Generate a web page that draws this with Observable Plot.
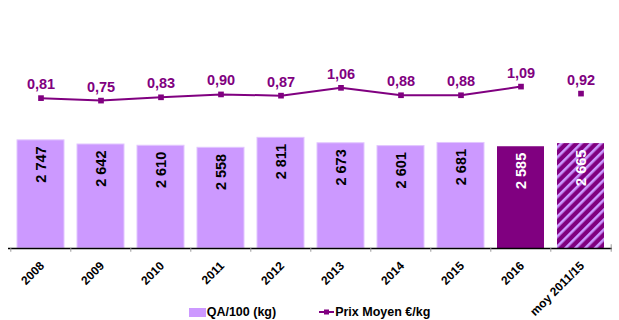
<!DOCTYPE html>
<html>
<head>
<meta charset="utf-8">
<script src="https://cdn.jsdelivr.net/npm/d3@7"></script>
<script src="https://cdn.jsdelivr.net/npm/@observablehq/plot@0.6"></script>
<style>
  html, body { margin: 0; padding: 0; background: #fff; }
  #wrap { position: relative; width: 619px; height: 320px; font-family: 'Liberation Sans', Arial, sans-serif; }
  #legend { position: absolute; left: 0; top: 305px; width: 619px; text-align: center; font-size: 12.5px; font-weight: bold; line-height: 14px; white-space: nowrap; color: #000; }
  #legend .item { display: inline-flex; align-items: center; vertical-align: top; }
  #legend .sw { display: inline-block; width: 17px; height: 9px; background: #CC99FF; margin-right: 1px; }
  #legend svg { margin-right: 1px; }
</style>
</head>
<body>
<div id="wrap">
  <div id="chart"></div>
  <div id="legend">
    <span class="item"><span class="sw"></span>QA/100 (kg)</span><span style="display:inline-block;width:43px"></span><span class="item"><svg width="15" height="10"><line x1="0" y1="5" x2="15" y2="5" stroke="#800080" stroke-width="2"/><rect x="5" y="2.5" width="5" height="5" fill="#800080"/></svg>Prix Moyen €/kg</span>
  </div>
</div>
<script>
const categories = ["2008", "2009", "2010", "2011", "2012", "2013", "2014", "2015", "2016", "moy 2011/15"];
const qa = [2747, 2642, 2610, 2558, 2811, 2673, 2601, 2681, 2585, 2665];
const prix = [0.81, 0.75, 0.83, 0.90, 0.87, 1.06, 0.88, 0.88, 1.09, 0.92];

const LIGHT = "#CC99FF", DARK = "#800080";
const locale = d3.formatLocale({thousands: "\u00a0", grouping: [3], decimal: ",", currency: ["", "€"]});
const fmtQa = locale.format(",");
const fmtPrix = locale.format(".2f");

const data = categories.map((c, i) => ({
  cat: c,
  qa: qa[i],
  prix: prix[i],
  fill: c === "2016" ? DARK : c === "moy 2011/15" ? "url(#hatch)" : LIGHT,
  stroke: c === "2016" || c === "moy 2011/15" ? "none" : "#E2C6FF",
  textFill: c === "2016" || c === "moy 2011/15" ? "#fff" : "#000"
}));

// secondary (price) axis mapped onto the primary y domain
const yMax = 6300;
const priceScale = d3.scaleLinear().domain([-2.84, 3.18]).range([0, yMax]);

const W = 619, H = 320, mL = 8, mR = 7, mB = 72;
const step = (W - mL - mR) / categories.length;
const lineData = data.filter(d => d.cat !== "moy 2011/15");

const chart = Plot.plot({
  width: W,
  height: H,
  marginLeft: mL,
  marginRight: mR,
  marginTop: 0,
  marginBottom: mB,
  style: {fontFamily: "'Liberation Sans', Arial, sans-serif", background: "#fff"},
  x: {domain: categories, paddingInner: 0.22, paddingOuter: 0.11, axis: null},
  y: {domain: [0, yMax], axis: null},
  color: {type: "identity"},
  marks: [
    Plot.barY(data, {x: "cat", y: "qa", fill: "fill", stroke: "stroke", strokeWidth: 1}),
    Plot.text(data, {x: "cat", y: "qa", text: d => fmtQa(d.qa), rotate: -90, textAnchor: "end", lineAnchor: "middle", dy: 6, fill: "textFill", fontSize: 14.5, fontWeight: "bold"}),
    Plot.ruleY([0], {stroke: "#000", strokeWidth: 1.3}),
    Plot.ruleX(categories, {x: d => d, dx: -step / 2, y1: 0, y2: -95, stroke: "#999"}),
    Plot.ruleX(categories.slice(-1), {x: d => d, dx: step / 2, y1: 95, y2: -95, stroke: "#999"}),
    Plot.text(categories, {x: d => d, frameAnchor: "bottom", dx: 4, dy: 18, rotate: -45, textAnchor: "end", lineAnchor: "bottom", fontSize: 12, fontWeight: "bold", fill: "#000"}),
    Plot.line(lineData, {x: "cat", y: d => priceScale(d.prix), stroke: DARK, strokeWidth: 2}),
    Plot.dot(data, {x: "cat", y: d => priceScale(d.prix), symbol: "square", r: 3.2, fill: DARK, stroke: "none"}),
    Plot.text(data, {x: "cat", y: d => priceScale(d.prix), text: d => fmtPrix(d.prix), lineAnchor: "bottom", dy: -9, fill: DARK, fontSize: 14.5, fontWeight: "bold"})
  ]
});

// hatch pattern for the "moy" bar
const ns = "http://www.w3.org/2000/svg";
const defs = document.createElementNS(ns, "defs");
defs.innerHTML = `<pattern id="hatch" patternUnits="userSpaceOnUse" width="7" height="7" patternTransform="rotate(45)">
  <rect x="0" y="0" width="7" height="7" fill="${DARK}"></rect>
  <rect x="0" y="0" width="2.6" height="7" fill="${LIGHT}"></rect>
</pattern>`;
chart.insertBefore(defs, chart.firstChild);

document.getElementById("chart").appendChild(chart);
</script>
</body>
</html>
